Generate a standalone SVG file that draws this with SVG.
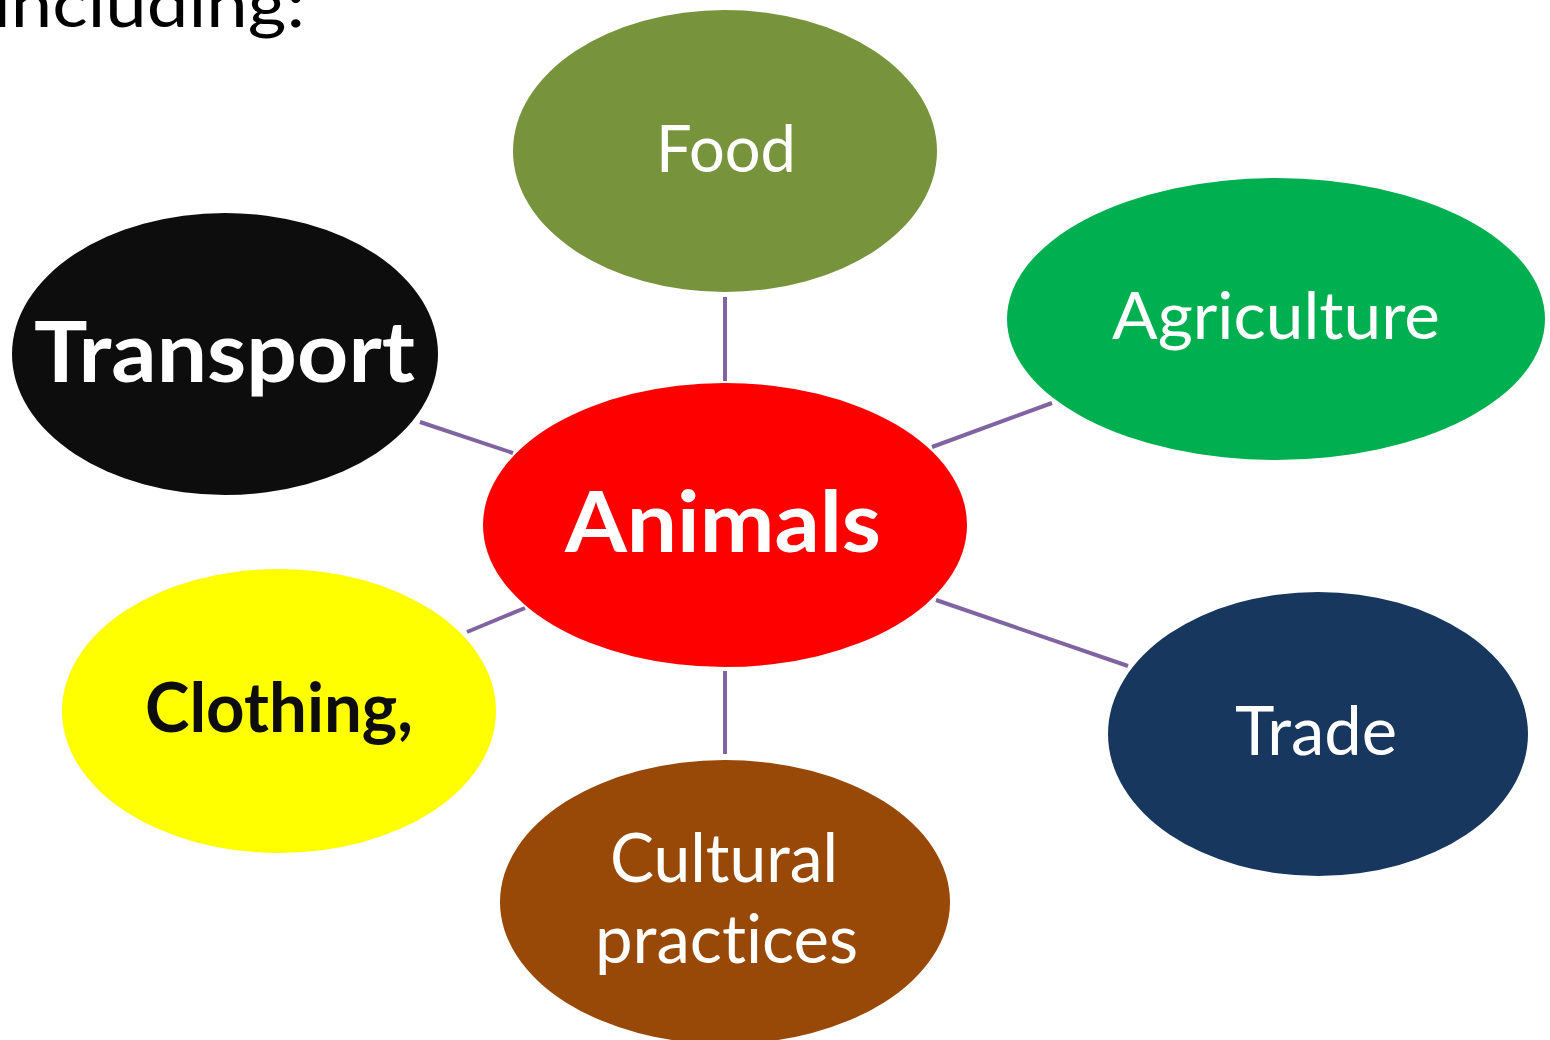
<svg xmlns="http://www.w3.org/2000/svg" width="1550" height="1040" viewBox="0 0 1550 1040">
<style>
  .lbl { font-family: Lato, "Open Sans", "Liberation Sans", sans-serif; text-anchor: start; font-variant-ligatures: none; font-feature-settings: "liga" 0, "clig" 0; }
  .reg { font-weight: normal; fill: #ffffff; }
  .bold { font-weight: bold; }
  .conn { stroke: #8064A2; stroke-width: 4; fill: none; }
</style>
<rect width="1550" height="1040" fill="#ffffff"/>
<text class="lbl" x="-7" y="27" font-size="66" fill="#000000" textLength="312" lengthAdjust="spacingAndGlyphs">including:</text>
<g id="connectors">
  <line class="conn" x1="725" y1="297" x2="725" y2="381"/>
  <line class="conn" x1="420" y1="422" x2="513" y2="453"/>
  <line class="conn" x1="932" y1="447" x2="1052" y2="403"/>
  <line class="conn" x1="936" y1="600" x2="1128" y2="666"/>
  <line class="conn" x1="467" y1="632" x2="525" y2="608"/>
  <line class="conn" x1="725" y1="671" x2="725" y2="754"/>
</g>
<g id="food">
  <ellipse cx="725" cy="151" rx="212" ry="141" fill="#77933C"/>
  <text class="lbl reg" x="656" y="172" font-size="65" textLength="140" lengthAdjust="spacingAndGlyphs">Food</text>
</g>
<g id="agriculture">
  <ellipse cx="1276" cy="319" rx="269" ry="141" fill="#00B050"/>
  <text class="lbl reg" x="1112" y="339" font-size="66" textLength="328" lengthAdjust="spacingAndGlyphs">Agriculture</text>
</g>
<g id="transport">
  <ellipse cx="225" cy="354" rx="213" ry="141" fill="#0D0D0D"/>
  <text class="lbl bold" x="34" y="382" font-size="85" fill="#ffffff" textLength="381" lengthAdjust="spacingAndGlyphs">Transport</text>
</g>
<g id="animals">
  <ellipse cx="725" cy="525" rx="242" ry="142" fill="#FF0000"/>
  <text class="lbl bold" x="565" y="552" font-size="84" fill="#ffffff" textLength="316" lengthAdjust="spacingAndGlyphs">Animals</text>
</g>
<g id="clothing">
  <ellipse cx="279" cy="711" rx="217" ry="142" fill="#FFFF00"/>
  <text class="lbl bold" x="145" y="732" font-size="68" fill="#0D0D0D" textLength="268" lengthAdjust="spacingAndGlyphs">Clothing,</text>
</g>
<g id="trade">
  <ellipse cx="1318" cy="734" rx="210" ry="142" fill="#17375E"/>
  <text class="lbl reg" x="1235" y="755" font-size="68" textLength="162" lengthAdjust="spacingAndGlyphs">Trade</text>
</g>
<g id="cultural">
  <ellipse cx="725" cy="902" rx="225" ry="142" fill="#984807"/>
  <text class="lbl reg" x="610" y="882" font-size="68" textLength="228" lengthAdjust="spacingAndGlyphs">Cultural</text>
  <text class="lbl reg" x="595" y="963" font-size="68" textLength="263" lengthAdjust="spacingAndGlyphs">practices</text>
</g>
</svg>
